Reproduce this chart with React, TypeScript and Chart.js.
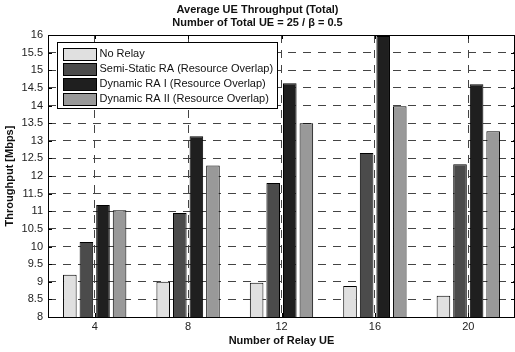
import React, { useEffect, useRef } from "react";
import { Chart, registerables } from "chart.js";

Chart.register(...registerables);

const categories = ["4", "8", "12", "16", "20"];
const seriesNames = [
  "No Relay",
  "Semi-Static RA (Resource Overlap)",
  "Dynamic RA I (Resource Overlap)",
  "Dynamic RA II (Resource Overlap)",
];
const noRelay = [9.2, 9.0, 8.97, 8.88, 8.6];
const semiStatic = [10.13, 10.95, 11.8, 12.65, 12.33];
const dynamicI = [11.18, 13.13, 14.63, 15.97, 14.6];
const dynamicII = [11.03, 12.3, 13.5, 13.98, 13.27];
const seriesColors = ["#e0e0e0", "#4b4b4b", "#1f1f1f", "#999999"];
const titleLines = ["Average UE Throughput (Total)", "Number of Total UE = 25 / β = 0.5"];
const xTitle = "Number of Relay UE";
const yTitle = "Throughput [Mbps]";
const yMin = 8;
const yMax = 16;
const yStep = 0.5;

const FONT = "'Liberation Sans', Arial, Helvetica, sans-serif";

const overlayPlugin = {
  id: "matlabOverlay",
  afterDatasetsDraw(chart: any) {
    const { ctx, chartArea } = chart;
    const xs = chart.scales.x;
    const ys = chart.scales.y;
    ctx.save();
    ctx.strokeStyle = "#000";
    ctx.lineWidth = 1;
    ctx.setLineDash([]);
    // inside ticks
    ctx.beginPath();
    ys.ticks.forEach((t: any) => {
      const y = Math.round(ys.getPixelForValue(t.value)) + 0.5;
      ctx.moveTo(chartArea.left, y);
      ctx.lineTo(chartArea.left + 4, y);
      ctx.moveTo(chartArea.right, y);
      ctx.lineTo(chartArea.right - 4, y);
    });
    xs.ticks.forEach((_t: any, i: number) => {
      const x = Math.round(xs.getPixelForTick(i)) + 0.5;
      ctx.moveTo(x, chartArea.bottom);
      ctx.lineTo(x, chartArea.bottom - 4);
      ctx.moveTo(x, chartArea.top);
      ctx.lineTo(x, chartArea.top + 4);
    });
    ctx.stroke();
    // box
    ctx.strokeRect(
      Math.round(chartArea.left) + 0.5,
      Math.round(chartArea.top) + 0.5,
      Math.round(chartArea.right - chartArea.left) - 1,
      Math.round(chartArea.bottom - chartArea.top)
    );
    // legend
    const lx = Math.round(chartArea.left) + 9.5;
    const ly = Math.round(chartArea.top) + 7.5;
    const lw = 220;
    const lh = 66;
    ctx.fillStyle = "#fff";
    ctx.fillRect(lx, ly, lw, lh);
    ctx.strokeRect(lx, ly, lw, lh);
    ctx.font = "11px " + FONT;
    ctx.textBaseline = "middle";
    ctx.textAlign = "left";
    chart.data.datasets.forEach((ds: any, i: number) => {
      const cy = ly + 11 + i * 15.3;
      ctx.fillStyle = ds.backgroundColor;
      ctx.fillRect(lx + 6, Math.round(cy - 6) + 0.5, 33, 12);
      ctx.strokeRect(lx + 6, Math.round(cy - 6) + 0.5, 33, 12);
      ctx.fillStyle = "#111";
      ctx.fillText(ds.label, lx + 42, cy);
    });
    ctx.restore();
  },
};

export default function App() {
  const ref = useRef<HTMLCanvasElement | null>(null);
  useEffect(() => {
    document.body.style.margin = "0";
    const values = [noRelay, semiStatic, dynamicI, dynamicII];
    const chart = new Chart(ref.current as HTMLCanvasElement, {
      type: "bar",
      data: {
        labels: categories,
        datasets: values.map((v, i) => ({
          label: seriesNames[i],
          data: v,
          backgroundColor: seriesColors[i],
          borderColor: "#000",
          borderWidth: 1,
          borderSkipped: false,
          categoryPercentage: 0.71,
          barPercentage: 0.82,
        })),
      },
      options: {
        animation: false,
        responsive: false,
        maintainAspectRatio: false,
        layout: { padding: 0 },
        plugins: {
          legend: { display: false },
          tooltip: { enabled: false },
          title: {
            display: true,
            text: titleLines,
            color: "#111",
            font: { family: FONT, size: 11, weight: "bold", lineHeight: 13 / 11 },
            padding: { top: 3.5, bottom: 5.5 },
          },
        },
        scales: {
          x: {
            type: "category",
            offset: true,
            grid: {
              display: true,
              offset: false,
              drawTicks: false,
              color: "#444",
              lineWidth: 1,
            },
            border: { display: false, dash: [8, 7] },
            ticks: {
              color: "#222",
              font: { family: FONT, size: 11 },
              padding: 3,
              maxRotation: 0,
            },
            title: {
              display: true,
              text: xTitle,
              color: "#111",
              font: { family: FONT, size: 11, weight: "bold" },
              padding: { top: 0, bottom: 4 },
            },
            afterFit(scale: any) {
              scale.height = 35;
            },
          },
          y: {
            min: yMin,
            max: yMax,
            grid: { drawTicks: false, color: "#444", lineWidth: 1 },
            border: { display: false, dash: [8, 7] },
            ticks: {
              stepSize: yStep,
              color: "#222",
              font: { family: FONT, size: 11 },
              padding: 5,
              callback: (v: any) => String(v),
            },
            title: {
              display: true,
              text: yTitle,
              color: "#111",
              font: { family: FONT, size: 11, weight: "bold" },
              padding: { top: 3, bottom: 3 },
            },
            afterFit(scale: any) {
              scale.width = 48;
            },
          },
        },
      } as any,
      plugins: [overlayPlugin],
    });
    return () => chart.destroy();
  }, []);
  return (
    <div style={{ width: 515, height: 352 }}>
      <canvas ref={ref} width={515} height={352} style={{ display: "block", width: 515, height: 352 }} />
    </div>
  );
}
